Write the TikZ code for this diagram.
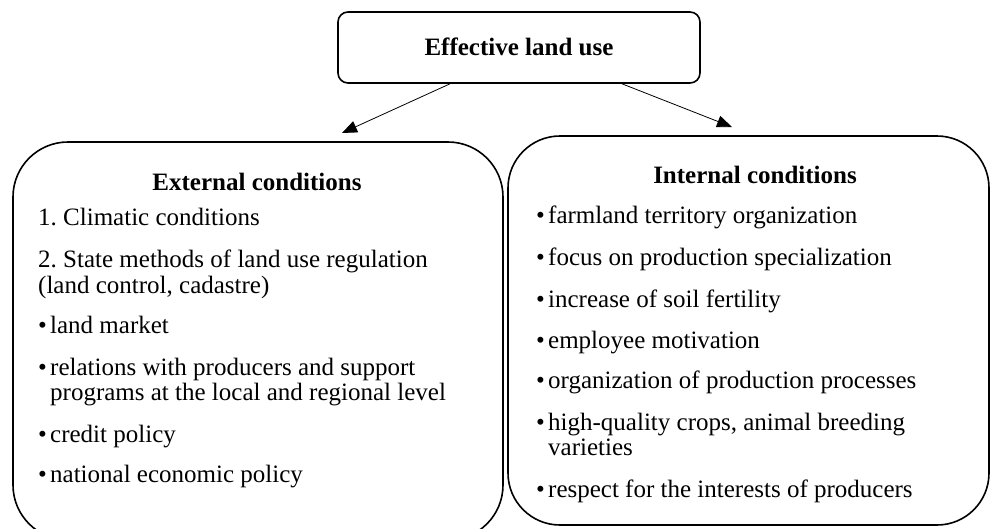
\documentclass[tikz,border=0pt]{standalone}
\usepackage{fontspec}
\setmainfont{Liberation Serif}
\usetikzlibrary{arrows.meta}
\frenchspacing
\begin{document}
\begin{tikzpicture}[x=1pt,y=-1pt,
  box/.style={draw,line width=1.6pt,inner sep=0pt},
  txt/.style={anchor=base west,inner sep=0pt,font=\fontsize{25}{25}\selectfont},
  head/.style={anchor=base,inner sep=0pt,font=\fontsize{25}{25}\selectfont\bfseries},
  conn/.style={line width=0.8pt,-{Triangle[length=15pt,width=12pt]}}]
\useasboundingbox (0,0) rectangle (990,528);
% boxes
\node[box,rounded corners=10pt,minimum width=362pt,minimum height=71pt] (top) at (519,47.5) {};
\node[box,rounded corners=55pt,minimum width=490pt,minimum height=398pt] (ext) at (258,341) {};
\node[box,rounded corners=52pt,minimum width=481pt,minimum height=389pt] (int) at (748.5,330.5) {};
% top text
\node[head] (toptxt) at (519,55) {Effective land use};
% arrows
\coordinate (tipL) at (342,133);
\coordinate (tipR) at (732,127);
\draw[conn] ([xshift=-69pt]top.south) -- (tipL);
\draw[conn] ([xshift=103pt]top.south) -- (tipR);
% left
\node[head] (exth) at (257,190) {External conditions};
\node[txt] (e1) at (38,225) {1. Climatic conditions};
\node[txt] (e2) at (38,267) {2. State methods of land use regulation};
\node[txt] (e2b) at (38,293) {(land control, cadastre)};
\node[txt] (e3) at (38,333) {\makebox[12pt][l]{•}land market};
\node[txt] (e4) at (38,375) {\makebox[12pt][l]{•}relations with producers and support};
\node[txt] (e4b) at (50,400) {programs at the local and regional level};
\node[txt] (e5) at (38,442) {\makebox[12pt][l]{•}credit policy};
\node[txt] (e6) at (38,482) {\makebox[12pt][l]{•}national economic policy};
% right
\node[head] (inth) at (755,183) {Internal conditions};
\node[txt] (i1) at (536,223) {\makebox[12pt][l]{•}farmland territory organization};
\node[txt] (i2) at (536,265) {\makebox[12pt][l]{•}focus on production specialization};
\node[txt] (i3) at (536,307) {\makebox[12pt][l]{•}increase of soil fertility};
\node[txt] (i4) at (536,348) {\makebox[12pt][l]{•}employee motivation};
\node[txt] (i5) at (536,388) {\makebox[12pt][l]{•}organization of production processes};
\node[txt] (i6) at (536,430) {\makebox[12pt][l]{•}high-quality crops, animal breeding};
\node[txt] (i6b) at (548,455) {varieties};
\node[txt] (i7) at (536,497) {\makebox[12pt][l]{•}respect for the interests of producers};
\end{tikzpicture}
\end{document}
